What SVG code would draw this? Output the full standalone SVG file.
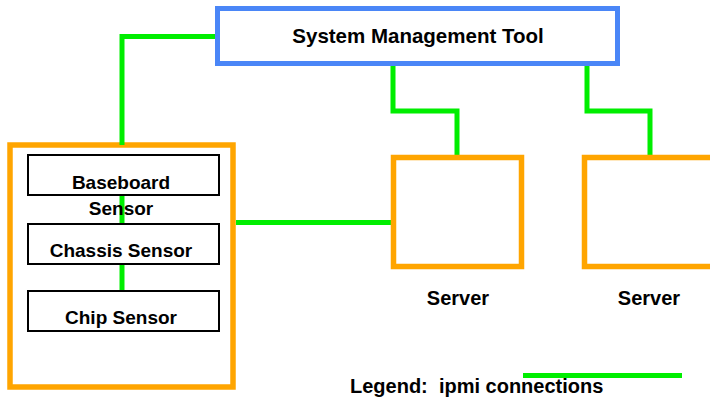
<svg xmlns="http://www.w3.org/2000/svg" width="710" height="400" viewBox="0 0 710 400">
<style>
  text { font-family: "Liberation Sans", Arial, sans-serif; font-weight: bold; fill: #000; text-anchor: middle; white-space: pre; }
  .conn { fill: none; stroke: #00ee00; stroke-width: 5; }
  .orange { fill: #fff; stroke: #ffa500; stroke-width: 5.5; }
  .sensor { fill: #fff; stroke: #000; stroke-width: 2; }
</style>
<rect width="710" height="400" fill="#fff"/>
<g id="host">
  <rect x="10" y="145" width="223" height="242" style="fill:none;stroke:#ffa500;stroke-width:5.5"/>
</g>
<g id="connectors">
  <path class="conn" d="M219 36.5 H122 V145"/>
  <path class="conn" d="M393 66 V111 H457 V158"/>
  <path class="conn" d="M587 66 V111 H650 V158"/>
  <path class="conn" d="M122 196 V224"/>
  <path class="conn" d="M122 265 V290"/>
  <path class="conn" d="M236 222.5 H394"/>
</g>
<g id="system-management-tool">
  <rect x="217.5" y="8.5" width="400" height="55" fill="#fff" stroke="#4a86f7" stroke-width="5"/>
  <text x="418" y="43" font-size="20.5">System Management Tool</text>
</g>
<g id="baseboard-sensor">
  <rect class="sensor" x="28" y="155" width="191" height="40"/>
  <text x="121" y="189" font-size="19">Baseboard</text>
  <text x="121" y="215" font-size="19">Sensor</text>
</g>
<g id="chassis-sensor">
  <rect class="sensor" x="28" y="224" width="191" height="40"/>
  <text x="121" y="257" font-size="19">Chassis Sensor</text>
</g>
<g id="chip-sensor">
  <rect class="sensor" x="28" y="291" width="191" height="40"/>
  <text x="121" y="324" font-size="19">Chip Sensor</text>
</g>
<g id="server-1">
  <rect class="orange" x="393.5" y="157.5" width="128" height="109"/>
  <text x="458" y="305" font-size="20">Server</text>
</g>
<g id="server-2">
  <rect class="orange" x="584.5" y="157.5" width="140" height="109"/>
  <text x="649" y="305" font-size="20">Server</text>
</g>
<g id="legend">
  <line class="conn" x1="523" y1="375.5" x2="682" y2="375.5"/>
  <text x="350" y="393" font-size="20" style="text-anchor:start">Legend:  ipmi connections</text>
</g>
</svg>
